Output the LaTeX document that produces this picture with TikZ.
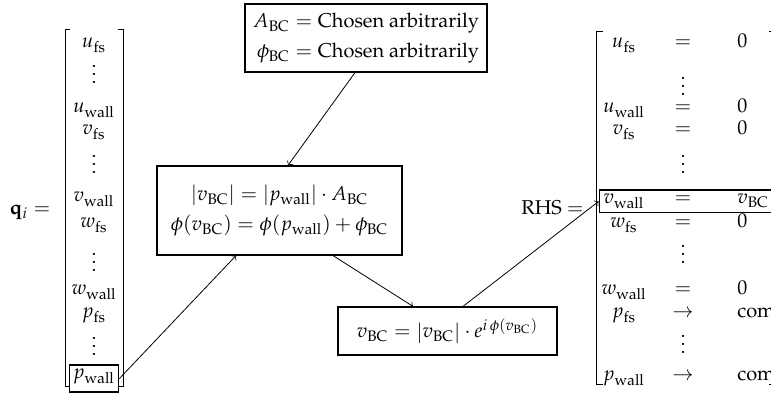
\documentclass[tikz,border=0pt]{standalone}
\usepackage[T1]{fontenc}
\usepackage{mathpazo}
\usepackage{amsmath}
\usetikzlibrary{calc,fit}

\newcommand{\fs}{\mathrm{fs}}
\newcommand{\wall}{\mathrm{wall}}
\newcommand{\BC}{\mathrm{BC}}

\tikzset{
  entry/.style={anchor=base,inner sep=0pt},
  eqbox/.style={draw,line width=0.6pt,inner sep=0pt,align=center},
  brack/.style={line width=0.5pt},
}

\begin{document}
\begin{tikzpicture}[x=0.5pt,y=0.5pt,>=to]
    \clip (0,0) rectangle (771,394);

    % state vector
    \node[entry] (qi) at (30,179) {$\mathbf{q}_i =$};
    \foreach \e/\y [count=\i] in {u_\fs/346,\vdots/310,u_\wall/281,v_\fs/259,\vdots/220,v_\wall/192,
        w_\fs/166,\vdots/122,w_\wall/99,p_\fs/76,\vdots/38}
      \node[entry] (q\i) at (94,\y) {$\e$};
    \node[entry,draw,line width=0.6pt,inner xsep=2pt,inner ysep=3pt,text height=4pt,text depth=3.5pt] (pw) at (94,15) {$p_\wall$};
    \draw[brack] (70,364)--(65,364)--(65,7)--(70,7);
    \draw[brack] (118,364)--(123,364)--(123,7)--(118,7);

    % boxes
    \node[eqbox,minimum width=121pt,minimum height=34pt] (abc) at (366,356)
      {$\begin{aligned} A_\BC &= \text{Chosen arbitrarily}\\ \phi_\BC &= \text{Chosen arbitrarily}\end{aligned}$};
    \node[eqbox,minimum width=122.5pt,minimum height=44.5pt] (mid) at (279.5,183.5)
      {$\begin{gathered} |v_\BC| = |p_\wall|\cdot A_\BC\\ \phi(v_\BC) = \phi(p_\wall)+\phi_\BC\end{gathered}$};
    \node[eqbox,minimum width=109.5pt,minimum height=24pt] (vbc) at (447.5,63)
      {$v_\BC = \left|v_\BC\right|\cdot e^{i\,\phi(v_\BC)}$};

    % right hand side
    \node[entry,anchor=base east] (rhs) at (584,179) {RHS $=$};
    \foreach \a/\r/\b/\y [count=\i] in {u_\fs/=/0/346,u_\wall/=/0/281,v_\fs/=/0/259,v_\wall/=/v_\BC/190,
        w_\fs/=/0/166,w_\wall/=/0/99,p_\fs/\to/\text{comp.}/76,p_\wall/\to/\text{comp.}/13}{
      \node[entry] (ra\i) at (624,\y) {$\a$};
      \node[entry] (rb\i) at (683,\y) {$\r$};
      \node[entry,anchor=base west] (rc\i) at (737,\y) {$\b$};
    }
    \foreach \y [count=\i] in {298,220,130,40}
      \node[entry] (rd\i) at (683,\y) {$\vdots$};
    \node[draw,line width=0.6pt,fit=(ra4)(rc4),inner xsep=2pt,inner ysep=2pt] (vw) {};
    \draw[brack] (603,362)--(596,362)--(596,9)--(603,9);
    \draw[brack] (769,362)--(776,362)--(776,9)--(769,9);

    % arrows
    \draw[->] ($(abc.south)+(-11,0)$) -- ($(mid.north)+(8.5,0)$);
    \draw[->] (pw.east) -- ($(mid.south)+(-43.5,0)$);
    \draw[->] ($(mid.south)+(53.5,0)$) -- ($(vbc.north)+(-34.5,0)$);
    \draw[->] ($(vbc.north)+(15.5,0)$) -- (vw.west);
\end{tikzpicture}
\end{document}
